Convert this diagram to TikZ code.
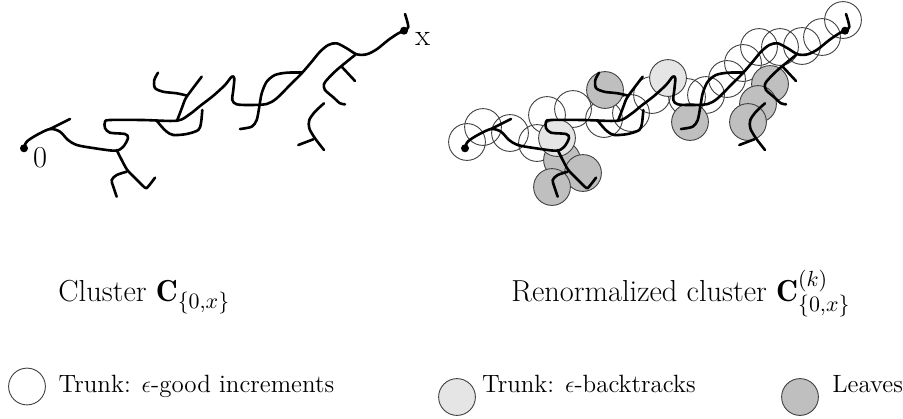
\documentclass[tikz,border=0pt]{standalone}
\usepackage{fontspec}
\begin{document}
\tikzset{
  treeline/.style={line width=1.3pt, line cap=round, line join=round},
  ball/.style={draw=black!75, line width=0.45pt},
  goodball/.style={ball},
  backball/.style={ball, fill=black!10},
  leafball/.style={ball, fill=black!25},
  bigtext/.style={inner sep=0pt, anchor=base west, font=\fontsize{15.2}{18}\selectfont},
  legtext/.style={inner sep=0pt, anchor=base west, font=\fontsize{12.5}{15}\selectfont},
}
\def\rb{9.2pt}
% the cluster: trunk from 0 to x, with its side branches
\newcommand\drawclustertree{%
  \draw[treeline] plot[smooth, tension=0.5] coordinates {(24,148.3) (26.7,141.7) (36.7,135) (50,129) (60,131.7) (68,140) (76.7,145) (93,148) (115,150.7) (123,147) (128,138) (125,134) (110,132.7) (105,128) (105,121.7) (110,120) (143,120) (177,120.7) (190,114) (200,106) (213,96) (225,85) (231.7,76.7) (234.3,78.3) (233.3,90) (232.3,100) (236.7,104.3) (250,105) (266.7,104) (276.7,98.3) (290,85) (301.7,73.3) (311.7,61.7) (320,51.7) (328.3,45) (336.7,43.3) (346.7,48.3) (356.7,54.3) (366.7,54.3) (376.7,49.3) (388.3,40) (398.3,33.3) (404,30.7)};
  \draw[treeline] plot[smooth, tension=0.5] coordinates {(404,30.7) (408.3,26.7) (405,14)};
  \draw[treeline] (50,129) -- (70,119);
  \draw[treeline] plot[smooth, tension=0.5] coordinates {(116.7,150) (121.7,160) (127.3,170) (135,178) (145,187.7) (148,186.7) (155,177.7)};
  \draw[treeline] plot[smooth, tension=0.5] coordinates {(126.7,171.7) (116.7,175) (111.7,180) (113.3,186.7) (116.7,196.7)};
  \draw[treeline] plot[smooth, tension=0.5] coordinates {(156.7,120.7) (161.7,126.7) (166.7,131.7) (173.3,135) (186.7,134) (198.3,130) (201,123) (202.3,110)};
  \draw[treeline] plot[smooth, tension=0.5] coordinates {(177,120.7) (180,113) (183,105) (186.7,96.7) (201.7,76.7)};
  \draw[treeline] plot[smooth, tension=0.5] coordinates {(186.7,95.5) (176.7,93.3) (163,91.7) (155,88) (154.3,80) (158,72.7)};
  \draw[treeline] plot[smooth, tension=0.5] coordinates {(301.7,72.5) (286.7,72.7) (275,75) (266.7,81.7) (261.7,93.3) (259.3,106.7) (256.7,120) (251.7,126.7) (240,129)};
  \draw[treeline] plot[smooth, tension=0.5] coordinates {(355,55) (346.7,61.7) (336.7,70) (328.3,78.3) (324,84) (325,90) (333.3,97.3) (340,103.3) (345,104.3)};
  \draw[treeline] (341.7,66.7) -- (355,81);
  \draw[treeline] plot[smooth, tension=0.5] coordinates {(324,103.3) (315,111.7) (309.3,120) (309.3,128.3) (315,138.3) (324,150)};
  \draw[treeline] (313.3,139.3) -- (298.3,145);
  \fill (24,148.3) circle (2pt);
  \fill (404,30.7) circle (2pt);
}
\begin{tikzpicture}[x=0.5pt, y=-0.5pt]
\useasboundingbox (0,0) rectangle (903,418);

% left: the cluster itself
\drawclustertree
\node[bigtext] (lbl0) at (32.7,167) {0};
\node[bigtext] (lblx) at (415,45) {x};

% right: covering balls of the renormalized cluster
\foreach \cx/\cy in {467/142, 483/127, 510/133, 537/143, 547/115, 573/109, 604/119, 631/113, 652/95, 687/97, 706/95, 727/79, 743/63, 759/47, 780/47, 802/46, 822/37, 843/20}
  \draw[goodball] (\cx,\cy) circle (\rb);
\foreach \cx/\cy in {562/160, 583/173, 552/187, 605/90, 690/122, 770/84, 758/104, 748/122}
  \draw[leafball] (\cx,\cy) circle (\rb);
\foreach \cx/\cy in {557/138, 668/78}
  \draw[backball] (\cx,\cy) circle (\rb);
\begin{scope}[xshift=220.5pt]
  \drawclustertree
\end{scope}

% captions
\node[bigtext] (capl) at (58,301.7) {Cluster $\mathbf{C}_{\{0,x\}}$};
\node[bigtext] (capr) at (511,301.7) {Renormalized cluster $\mathbf{C}^{(k)}_{\{0,x\}}$};

% legend
\draw[goodball] (27,386.5) circle (\rb);
\node[legtext] (leg1) at (58.3,392.7) {Trunk: $\epsilon$-good increments};
\draw[backball] (457,397) circle (\rb);
\node[legtext] (leg2) at (481.7,392.7) {Trunk: $\epsilon$-backtracks};
\draw[leafball] (800,397) circle (\rb);
\node[legtext] (leg3) at (832,392.7) {Leaves};
\end{tikzpicture}
\end{document}
